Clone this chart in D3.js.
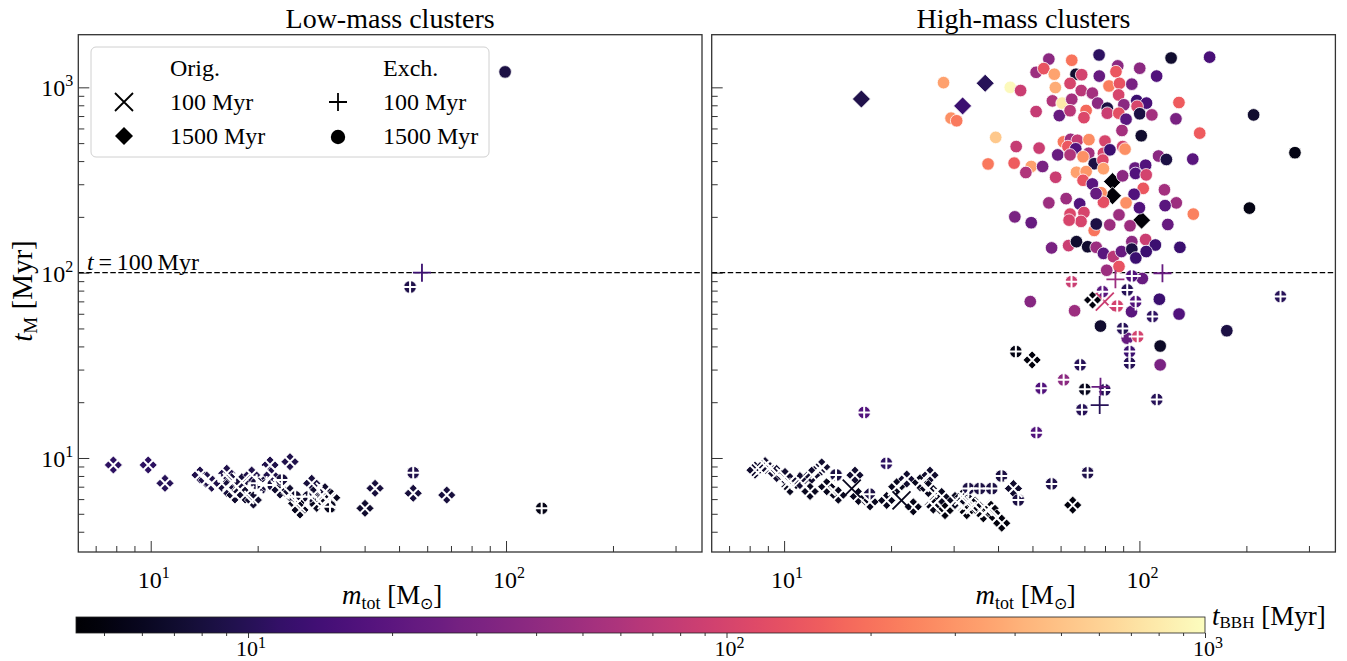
<!DOCTYPE html>
<html><head><meta charset="utf-8">
<script src="https://cdn.jsdelivr.net/npm/d3@7/dist/d3.min.js"></script>
<style>
html,body{margin:0;padding:0;background:#fff;}
svg text{font-family:"Liberation Serif","Times New Roman",Times,serif;fill:#000;}
</style></head><body>
<svg id="chart" width="1347" height="661"></svg>
<script>
// ---------- data: [m_tot (Msun), t_M (Myr), t_BBH (Myr)] ----------
const lowOrig1500 = [
 [7.85,9.17,11],[9.84,9.17,11],[10.97,7.30,10],[13.76,8.09,9],[14.38,7.6,9],[14.85,7.3,9],[16.37,8.27,9],[16.9,7.45,8],
 [16.37,6.86,8],[17.27,6.31,7],[18.04,7.45,8],[18.43,6.31,7],[19.24,8.09,9],[19.45,5.93,7],[20.75,7.15,8],[21.67,9.17,9],
 [21.9,8.09,9],[23.12,6.72,7],[24.66,9.55,9],[24.66,6.45,7],[25.76,5.69,6],[26.31,5.24,6],[28.39,7.3,8],[28.69,6.31,7],
 [29.33,5.69,6],[30.94,6.58,7],[31.28,5.93,6],[32.32,6.1,6],[40.1,5.35,7],[42.8,6.86,8],[54.8,6.45,8],[68.1,6.31,8]
];
const lowOrig100 = [
 [7.85,9.17,11],[9.84,9.17,11],[10.97,7.30,10],[13.76,8.09,9],[14.38,7.6,9],[14.85,7.3,9],[16.37,8.27,9],[16.9,7.45,8],
 [16.37,6.86,8],[17.27,6.31,7],[18.04,7.45,8],[18.43,6.31,7],[19.24,8.09,9],[19.45,5.93,7],[20.75,7.15,8],[21.67,9.17,9],
 [21.9,8.09,9],[23.12,6.72,7],[24.66,9.55,9],[24.66,6.45,7],[25.76,5.69,6],[26.31,5.24,6],[28.39,7.3,8],[28.69,6.31,7],
 [29.33,5.69,6],[30.94,6.58,7],[31.28,5.93,6],[32.32,6.1,6],[40.1,5.35,7],[42.8,6.86,8],[54.8,6.45,8],[68.1,6.31,8]
];
const lowExch1500 = [
 [99.4,1211,8.6],[53.7,83.7,9],[19.87,7.3,8],[21.2,7.15,8],[23.4,7.6,8],[25.5,6.17,7],[27.8,6.17,7],[31.96,5.46,6],
 [54.8,8.33,9],[126,5.35,5.5]
];
const lowExch100 = [
 [58.0,100,13],[53.7,83.7,9],[19.87,7.3,8],[21.2,7.15,8],[23.4,7.6,8],[25.5,6.17,7],[27.8,6.17,7],[31.96,5.46,6],
 [54.8,8.33,9],[126,5.35,5.5]
];
const highOrig1500 = [
 [16.5,865,9],[31.8,794,13],[36.8,1052,10],[84.0,310,4.8],[84.0,260,4.8],[101.4,192,4.8],
 [73.8,71.2,5],[49.9,33.8,5],[64.9,5.57,5],[44.2,6.84,7],
 [8.28,8.6,7],[8.84,9.1,7],[9.53,8.25,7],[10.06,7.95,7],[10.39,7.0,6],[11.08,7.55,7],[11.96,8.08,7],[11.83,6.6,6],
 [12.76,8.95,7],[13.18,7.0,6],[14.21,6.3,6],[15.83,8.08,7],[16.18,6.2,6],[17.45,5.8,6],[19.44,5.9,6],[20.75,7.0,6],
 [22.14,7.7,7],[23.1,5.45,5.5],[24.13,7.35,6],[25.74,8.08,7],[25.46,6.84,6],[26.3,5.57,5.5],[27.77,6.2,6],[28.37,5.2,5],
 [30.27,5.9,6],[31.94,6.2,6],[32.66,5.2,5],[34.45,5.57,5.5],[36.37,5.0,5],[37.98,5.35,5],[39.67,4.75,5],[40.97,4.45,5]
];
const highOrig100 = [
 [73.8,71.2,5],[49.9,33.8,5],[64.9,5.57,5],[44.2,6.84,7],[79.9,69.8,86],
 [8.28,8.6,7],[8.84,9.1,7],[9.53,8.25,7],[10.06,7.95,7],[10.39,7.0,6],[11.08,7.55,7],[11.96,8.08,7],[11.83,6.6,6],
 [12.76,8.95,7],[13.18,7.0,6],[14.21,6.3,6],[15.83,8.08,7],[16.18,6.2,6],[17.45,5.8,6],[19.44,5.9,6],[20.75,7.0,6],
 [22.14,7.7,7],[23.1,5.45,5.5],[24.13,7.35,6],[25.74,8.08,7],[25.46,6.84,6],[26.3,5.57,5.5],[27.77,6.2,6],[28.37,5.2,5],
 [30.27,5.9,6],[31.94,6.2,6],[32.66,5.2,5],[34.45,5.57,5.5],[36.37,5.0,5],[37.98,5.35,5],[39.67,4.75,5],[40.97,4.45,5],
 [8.55,8.6,7],[9.13,8.95,7],[10.27,7.35,7],[12.6,8.6,7],[15.5,6.84,6],[21.4,5.9,6],[25.7,5.8,6],[32.7,5.7,6],[36.4,5.45,5]
];
const highExch1500 = [
 [55.6,1420,38],[64.5,1400,205],[77,1495,11],[122.8,1440,7],[157.6,1455,15.5],[51.2,1205,48],[53.8,1262,135],
 [57.6,1177,350],[66.3,1177,7],[68.8,1170,97],[77.1,1150,23],[86.9,1305,38],[85.9,1215,143],[100.2,1268,38],
 [111.8,1150,17],[28.1,1060,340],[29.5,682,280],[30.6,660,220],[43.3,1000,950],[46.3,961,86],[58,997,390],
 [63.8,1050,103],[68.6,961,69],[73.7,930,52],[82.1,1017,230],[87.9,1050,135],[87.4,910,103],[95.2,1040,30],
 [98.3,848,13],[104.7,822,15.5],[129.2,828,152],[56.9,845,61],[60.6,822,780],[64.5,862,52],[76.3,822,38],
 [81.2,772,8.6],[90.4,805,38],[51.2,740,81],[59.5,704,23],[63.8,748,69],[70.8,750,180],[69.8,686,109],
 [81.2,725,86],[87.5,725,127],[91.7,673,19.5],[98.5,790,103],[100.2,720,8.6],[108.4,710,52],[126.7,676,30],
 [147.8,566,152],[89.3,585,52],[101.2,548,7],[39.4,537,530],[45.0,479,81],[52.2,470,86],[61.1,508,215],
 [64.0,524,48],[66.9,518,81],[72.1,522,270],[80.0,513,103],[62.9,479,143],[66.2,466,17],[72.0,441,52],
 [79.2,441,103],[82.6,460,13],[89.7,479,97],[91.1,464,285],[58.9,432,23],[63.8,432,61],[69.4,422,285],
 [74.6,387,8.6],[78.9,405,109],[79.2,364,340],[97.2,367,23],[104.1,380,17],[113.2,426,38],[119.1,408,8.6],
 [141.3,410,19.5],[37.5,386,215],[44.4,390,152],[49.6,374,340],[47.9,347,61],[53.4,374,30],[58.1,327,86],
 [66.5,348,340],[70.8,351,300],[69.4,315,135],[73.7,301,19.5],[89.7,333,38],[97.5,343,17],[104.5,337,97],
 [102.5,285,143],[96.6,265,17],[91.7,238,285],[78.0,270,270],[79.2,240,127],[75.5,267,23],[117.6,280,52],
 [127,238,48],[118.1,230,19.5],[141.8,207,240],[100,224,17],[55.6,238,48],[62.2,251,48],[67.9,235,17],
 [63.8,207,109],[69.8,211,103],[68.5,189,103],[63.4,192,103],[74.6,169,205],[75.6,183,8.6],[82.5,181,48],
 [87.6,205,48],[94.1,179,48],[95.2,147,38],[104.1,151,86],[110.9,141,13],[120.2,182,23],[130,137,13],
 [44.6,200,30],[49.6,186,23],[56.6,136,30],[63.2,140,86],[66.5,147,7],[71.5,138,7],[75.6,137,48],
 [79.2,127,19.5],[84.5,122,69],[89,130,23],[95.2,134,8.6],[97.7,120,13],[104.5,130,13],[87.6,108,135],
 [80.9,103,48],[209.6,710,7],[274,444,5.4],[204,223,5.4],
 [101.9,93,23],[49.3,69.8,35],[95,61.6,19.5],[113.8,71.9,13],[129.3,59.8,17],[65.7,62.3,48],[77.7,51.5,7],
 [92.4,44.3,23],[176.2,48.6,8.6],[114.4,40.2,6.5],[114.4,31.8,30],
 [95.2,96,17],[64.4,89.4,86],[78.7,79,19.5],[92.4,80.7,10],[86.6,66.1,97],[97.6,69.8,17],[108.8,58,11],
 [89.7,50,10],[98.9,45.2,97],[249.5,74.3,10],[93.8,37.5,13],[93.8,32.5,10],[44.9,37.5,5.4],[68.1,31.8,10],
 [61.2,26.4,38],[52.9,23.8,17],[70.2,23.5,6],[79.9,23.3,10],[68.9,18.2,10],[111.9,20.7,10],[16.8,17.6,17],
 [51.3,13.7,17],[19.4,9.35,11],[56.6,7.25,9],[71.5,8.32,9],[40.9,8.0,8.6],[45.6,5.93,8.6],[33.0,6.84,8.6],
 [35.5,6.84,8.6],[38.4,6.84,8.6],[14.0,8.1,8.6],[17.4,6.38,8.6]
];
const highExch100 = [
 [95.2,96,17],[64.4,89.4,86],[78.7,79,19.5],[92.4,80.7,10],[86.6,66.1,97],[97.6,69.8,17],[108.8,58,11],
 [89.7,50,10],[98.9,45.2,97],[249.5,74.3,10],[93.8,37.5,13],[93.8,32.5,10],[44.9,37.5,5.4],[68.1,31.8,10],
 [61.2,26.4,38],[52.9,23.8,17],[70.2,23.5,6],[79.9,23.3,10],[68.9,18.2,10],[111.9,20.7,10],[16.8,17.6,17],
 [51.3,13.7,17],[19.4,9.35,11],[56.6,7.25,9],[71.5,8.32,9],[40.9,8.0,8.6],[45.6,5.93,8.6],[33.0,6.84,8.6],
 [35.5,6.84,8.6],[38.4,6.84,8.6],[14.0,8.1,8.6],[17.4,6.38,8.6],
 [116.1,99.3,23],[85.6,92,48],[77.7,24.2,23],[77.3,19.3,10]
];
const xLimits = [6.255, 356.1];
const yLimits = [3.11, 1923];
const cLimits = [4.37, 1000];
const xMajorTicks = [10, 100];
const xMinorTicks = [7,8,9,20,30,40,50,60,70,80,90,200,300];
const yMajorTicks = [10, 100, 1000];
const yMinorTicks = [4,5,6,7,8,9,20,30,40,50,60,70,80,90,200,300,400,500,600,700,800,900];
const cbMajorTicks = [10, 100, 1000];
const cbMinorTicks = [5,6,7,8,9,20,30,40,50,60,70,80,90,200,300,400,500,600,700,800,900];
const panelTitles = ["Low-mass clusters", "High-mass clusters"];
const refLine = 100;

// ---------- layout ----------
const svg = d3.select("#chart");
const PW = 623.7, T = 34.7, B = 552;
const X0 = [78.3, 711.7];
const FR = "#333";
const color = d3.scaleSequentialLog(d3.interpolateMagma).domain(cLimits);

const SYM = {
  cross: "M-9,-9L9,9M-9,9L9,-9",
  plus: "M-9,0H9M0,-9V9",
  diamond: "M0,-9L9,0L0,9L-9,0Z"
};

function pow10(sel, exp, dy){
  sel.append("tspan").text("10");
  sel.append("tspan").attr("font-size",16).attr("dy",dy || -10).text(exp);
}
const sup = d => String(Math.round(Math.log10(d)));

const panels = [
  {o100: lowOrig100, o1500: lowOrig1500, e100: lowExch100, e1500: lowExch1500},
  {o100: highOrig100, o1500: highOrig1500, e100: highExch100, e1500: highExch1500}
];

panels.forEach((p, i) => {
  const x0 = X0[i];
  const x = d3.scaleLog().domain(xLimits).range([x0, x0 + PW]);
  const y = d3.scaleLog().domain(yLimits).range([B, T]);
  const g = svg.append("g");
  const clipId = "clip" + i;
  svg.append("clipPath").attr("id", clipId).append("rect")
     .attr("x", x0).attr("y", T).attr("width", PW).attr("height", B - T);

  const ax = (axis, tr) => g.append("g").attr("transform", tr).call(axis)
      .call(s => s.select(".domain").remove())
      .call(s => s.selectAll("line").attr("stroke", FR).attr("stroke-width", 1));
  ax(d3.axisBottom(x).tickValues(xMajorTicks).tickSize(-11).tickFormat(""), `translate(0,${B})`);
  ax(d3.axisBottom(x).tickValues(xMinorTicks).tickSize(-6).tickFormat(""), `translate(0,${B})`);
  ax(d3.axisLeft(y).tickValues(yMajorTicks).tickSize(-11).tickFormat(""), `translate(${x0},0)`);
  ax(d3.axisLeft(y).tickValues(yMinorTicks).tickSize(-6).tickFormat(""), `translate(${x0},0)`);

  xMajorTicks.forEach(v => {
    const t = g.append("text").attr("x", x(v) + 3).attr("y", B + 36).attr("text-anchor","middle").attr("font-size",24);
    pow10(t, sup(v));
  });
  if (i === 0) {
    yMajorTicks.forEach(v => {
      const t = g.append("text").attr("x", x0 - 5).attr("y", y(v) + 9).attr("text-anchor","end").attr("font-size",24);
      pow10(t, sup(v));
    });
  }

  g.append("line").attr("x1", x0).attr("x2", x0 + PW).attr("y1", y(refLine)).attr("y2", y(refLine))
   .attr("stroke","#000").attr("stroke-width",1.3).attr("stroke-dasharray","5.5,2.5");

  const pg = g.append("g").attr("clip-path", `url(#${clipId})`);

  pg.selectAll("path.dia").data(p.o1500).join("path").attr("class","dia")
    .attr("d", SYM.diamond).attr("transform", d => `translate(${x(d[0])},${y(d[1])})`)
    .attr("fill", d => color(d[2])).attr("stroke","#fff").attr("stroke-width",0.8);
  pg.selectAll("circle.cir").data(p.e1500).join("circle").attr("class","cir")
    .attr("cx", d => x(d[0])).attr("cy", d => y(d[1])).attr("r", 6.3)
    .attr("fill", d => color(d[2])).attr("stroke","#fff").attr("stroke-width",0.8);

  const shapes = p.o1500.concat(p.e1500).map(d => [x(d[0]), y(d[1])]);
  const near = (d, thr) => shapes.some(s => Math.hypot(s[0] - x(d[0]), s[1] - y(d[1])) < thr);
  const drawLine = (data, sym, thr) => {
    pg.append("g").selectAll("path").data(data).join("path")
      .attr("d", sym).attr("transform", d => `translate(${x(d[0])},${y(d[1])})`)
      .attr("fill","none")
      .attr("stroke", d => near(d, thr) ? "#fff" : color(d[2]))
      .attr("stroke-width", d => near(d, thr) ? 2 : 1.8);
  };
  drawLine(p.o100, SYM.cross, 10);
  drawLine(p.e100, SYM.plus, 3);

  g.append("rect").attr("x", x0).attr("y", T).attr("width", PW).attr("height", B - T)
   .attr("fill","none").attr("stroke", FR).attr("stroke-width",1.3);

  g.append("text").attr("x", x0 + PW / 2).attr("y", 28).attr("text-anchor","middle").attr("font-size",28).text(panelTitles[i]);

  const xl = g.append("text").attr("x", x0 + PW / 2 + 2).attr("y", 604).attr("text-anchor","middle").attr("font-size",27);
  xl.append("tspan").attr("font-style","italic").text("m");
  xl.append("tspan").attr("font-size",18).attr("dy",5).text("tot");
  xl.append("tspan").attr("dy",-5).text(" [M");
  xl.append("tspan").attr("font-size",16).attr("dy",5).text("⊙");
  xl.append("tspan").attr("dy",-5).text("]");

  if (i === 0) {
    const tl = g.append("text").attr("x", 87).attr("y", y(refLine) - 3).attr("font-size",24);
    tl.append("tspan").attr("font-style","italic").text("t");
    tl.append("tspan").text("\u2009=\u2009100\u2009Myr");
  }
});

// y label
const yl = svg.append("text").attr("transform","translate(32,291) rotate(-90)").attr("text-anchor","middle").attr("font-size",29);
yl.append("tspan").attr("font-style","italic").text("t");
yl.append("tspan").attr("font-size",19).attr("dy",5).text("M");
yl.append("tspan").attr("dy",-5).text(" [Myr]");

// legend
const lg = svg.append("g");
lg.append("rect").attr("x",91).attr("y",47).attr("width",398).attr("height",110).attr("rx",5)
  .attr("fill","#fff").attr("fill-opacity",0.85).attr("stroke","#d0d0d0").attr("stroke-width",1);
const lt = (tx, ty, s) => lg.append("text").attr("x",tx).attr("y",ty).attr("font-size",24).text(s);
lt(170, 76, "Orig."); lt(383, 76, "Exch.");
lt(170, 110, "100 Myr"); lt(383, 110, "100 Myr");
lt(170, 144, "1500 Myr"); lt(383, 144, "1500 Myr");
lg.append("path").attr("d", SYM.cross).attr("transform","translate(124,102)").attr("stroke","#000").attr("stroke-width",1.8).attr("fill","none");
lg.append("path").attr("d", SYM.plus).attr("transform","translate(338,102)").attr("stroke","#000").attr("stroke-width",1.8).attr("fill","none");
lg.append("path").attr("d", SYM.diamond).attr("transform","translate(124,136)").attr("fill","#000");
lg.append("circle").attr("cx",338).attr("cy",137).attr("r",7.2).attr("fill","#000");

// colorbar
const CX0 = 76, CX1 = 1205, CY = 617, CH = 16;
const cbx = d3.scaleLog().domain(cLimits).range([CX0, CX1]);
const grad = svg.append("defs").append("linearGradient").attr("id","cbgrad").attr("x1","0%").attr("x2","100%");
d3.range(0, 1.0001, 0.02).forEach(f => grad.append("stop").attr("offset", (f*100)+"%").attr("stop-color", d3.interpolateMagma(f)));
svg.append("rect").attr("x",CX0).attr("y",CY).attr("width",CX1-CX0).attr("height",CH).attr("fill","url(#cbgrad)");
const cbAx = (axis) => svg.append("g").attr("transform",`translate(0,${CY+CH})`).call(axis)
   .call(s => s.select(".domain").remove())
   .call(s => s.selectAll("line").attr("stroke", FR).attr("stroke-width",1));
cbAx(d3.axisBottom(cbx).tickValues(cbMajorTicks).tickSize(5).tickFormat(""));
cbAx(d3.axisBottom(cbx).tickValues(cbMinorTicks).tickSize(3).tickFormat(""));
svg.append("rect").attr("x",CX0).attr("y",CY).attr("width",CX1-CX0).attr("height",CH).attr("fill","none").attr("stroke","#222").attr("stroke-width",0.8);
cbMajorTicks.forEach(v => {
  const t = svg.append("text").attr("x", cbx(v) + 3).attr("y", 656).attr("text-anchor","middle").attr("font-size",22);
  pow10(t, sup(v), -8);
});
const cl = svg.append("text").attr("x", 1212).attr("y", 625).attr("font-size",27);
cl.append("tspan").attr("font-style","italic").text("t");
cl.append("tspan").attr("font-size",17).attr("dy",3).text("BBH");
cl.append("tspan").attr("dy",-3).text(" [Myr]");
</script>
</body></html>
